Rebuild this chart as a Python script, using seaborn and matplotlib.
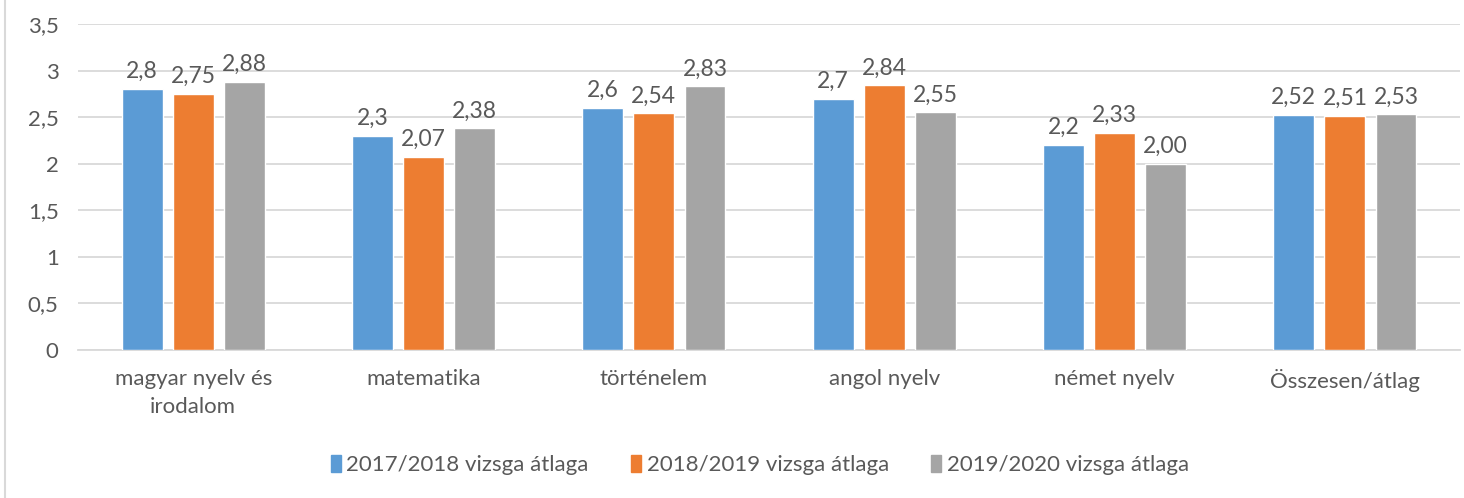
import matplotlib
matplotlib.use("Agg")
import matplotlib.pyplot as plt
from matplotlib.lines import Line2D
import pandas as pd
import seaborn as sns

# Data
subjects = ["magyar nyelv és\nirodalom", "matematika", "történelem",
            "angol nyelv", "német nyelv", "Összesen/átlag"]
years = ["2017/2018 vizsga átlaga", "2018/2019 vizsga átlaga", "2019/2020 vizsga átlaga"]
avg_2018 = [2.8, 2.3, 2.6, 2.7, 2.2, 2.52]
avg_2019 = [2.75, 2.07, 2.54, 2.84, 2.33, 2.51]
avg_2020 = [2.88, 2.38, 2.83, 2.55, 2.00, 2.53]
labels_2018 = ["2,8", "2,3", "2,6", "2,7", "2,2", "2,52"]
labels_2019 = ["2,75", "2,07", "2,54", "2,84", "2,33", "2,51"]
labels_2020 = ["2,88", "2,38", "2,83", "2,55", "2,00", "2,53"]
y_ticks = [0, 0.5, 1, 1.5, 2, 2.5, 3, 3.5]
y_tick_labels = ["0", "0,5", "1", "1,5", "2", "2,5", "3", "3,5"]

colors = ["#5B9BD5", "#ED7D31", "#A5A5A5"]
text_color = "#595959"
grid_color = "#D9D9D9"

df = pd.DataFrame({
    "tantargy": subjects * 3,
    "atlag": avg_2018 + avg_2019 + avg_2020,
    "ev": [years[0]] * 6 + [years[1]] * 6 + [years[2]] * 6,
})

sns.set_style("white")
plt.rcParams["font.family"] = ["Lato", "DejaVu Sans"]

fig = plt.figure(figsize=(14.64, 4.98), dpi=100)
ax = fig.add_axes([0.0533, 0.2972, 0.9440, 0.6546])

sns.barplot(data=df, x="tantargy", y="atlag", hue="ev", palette=colors,
            width=0.665, gap=0.2, saturation=1, ax=ax, zorder=3)

for container, labels in zip(ax.containers, [labels_2018, labels_2019, labels_2020]):
    ax.bar_label(container, labels=labels, padding=5, fontsize=16.5, color=text_color)

ax.set_ylim(0, 3.5)
ax.set_xlim(-0.5, len(subjects) - 0.5)
ax.set_yticks(y_ticks)
ax.set_yticklabels(y_tick_labels)
ax.yaxis.grid(True, color=grid_color, linewidth=1.3, zorder=0)
ax.set_axisbelow(True)
ax.set_xlabel("")
ax.set_ylabel("")
for side in ["top", "right", "left"]:
    ax.spines[side].set_visible(False)
ax.spines["bottom"].set_color(grid_color)
ax.spines["bottom"].set_linewidth(1.3)
ax.tick_params(axis="both", length=0, labelsize=16, labelcolor=text_color)
ax.tick_params(axis="x", pad=14)
ax.tick_params(axis="y", pad=14)
for lbl in ax.get_xticklabels():
    lbl.set_linespacing(1.5)

ax.legend_.remove()
handles = [plt.Rectangle((0, 0), 1, 1, color=c) for c in colors]
fig.legend(handles, years, loc="center", bbox_to_anchor=(0.519, 0.066), ncol=3,
           frameon=False, fontsize=16, labelcolor=text_color,
           handlelength=0.45, handleheight=0.75, handletextpad=0.25, columnspacing=1.9)

# light chart-frame line on the left edge
fig.add_artist(Line2D([0.0035, 0.0035], [0, 1], transform=fig.transFigure,
                      color=grid_color, linewidth=1.5))

fig.savefig("out.png", dpi=100)
